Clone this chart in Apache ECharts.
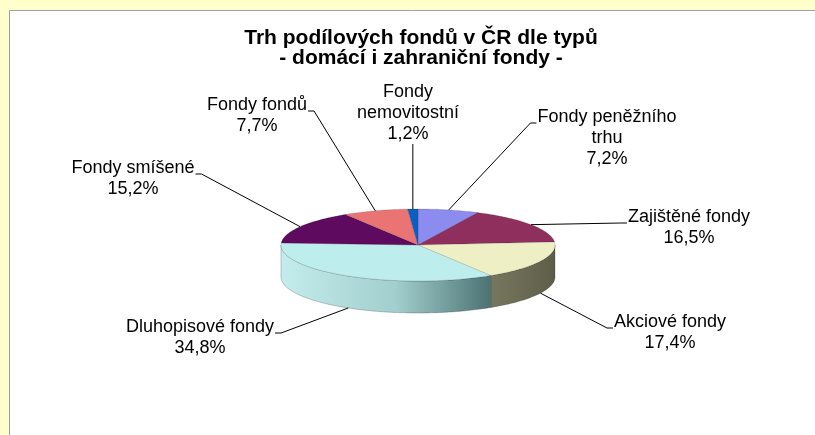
<!DOCTYPE html>
<html>
<head>
<meta charset="utf-8">
<title>Trh podílových fondů v ČR dle typů</title>
<script src="https://cdn.jsdelivr.net/npm/echarts@6/dist/echarts.min.js"></script>
<style>
  html, body { margin: 0; padding: 0; background: #ffffcc; }
  #chart { width: 815px; height: 435px; }
</style>
</head>
<body>
<div id="chart"></div>
<script>
// data – podíly dle typu fondu (v %)
const categories = ['Fondy peněžního trhu', 'Zajištěné fondy', 'Akciové fondy', 'Dluhopisové fondy', 'Fondy smíšené', 'Fondy fondů', 'Fondy nemovitostní'];
const labelNames = ['Fondy peněžního\ntrhu', 'Zajištěné fondy', 'Akciové fondy', 'Dluhopisové fondy', 'Fondy smíšené', 'Fondy fondů', 'Fondy\nnemovitostní'];
const shares = [7.2, 16.5, 17.4, 34.8, 15.2, 7.7, 1.2];

// barvy (vrch a bok výseče)
const topColors = ['#8c8cf0', '#8e2f5e', '#efefc6', '#bdeded', '#5e0a5e', '#ea7474', '#0a5fc0'];
const sideColors = [
  ['#6f6fc0', '#6060b0', '#4a4a90'],
  ['#70244a', '#5e1d3e', '#4a1530'],
  ['#77775f', '#6a6a54', '#5c5c48'],
  ['#c4ecec', '#a2cece', '#4c7272'],
  ['#4a084a', '#3e063e', '#300530'],
  ['#b85a5a', '#a04d4d', '#8a4040'],
  ['#084c9a', '#064084', '#053570']
];
// kde stojí popisky (střed prvního řádku)
const labelAt = [[607, 117], [689, 217], [670, 322], [200, 327], [133, 168], [257, 105], [408, 92]];

// geometrie 3D koláče
const cx = 418, cy = 245, rx = 137, ry = 36, depth = 32;
const lineH = 21;
const labelFont = '18px "Liberation Sans", Arial, sans-serif';

const measureCtx = document.createElement('canvas').getContext('2d');
measureCtx.font = labelFont;

const total = shares.reduce((s, v) => s + v, 0);
let acc = 0;
const seriesData = shares.map((v, i) => {
  const item = { name: categories[i], value: [v, acc] };
  acc += v;
  return item;
});

function pt(a, dy) {
  return [cx + rx * Math.sin(a), cy - ry * Math.cos(a) + (dy || 0)];
}
function arc(a0, a1, dy) {
  const pts = [];
  const n = Math.max(2, Math.ceil((a1 - a0) / (Math.PI / 180)));
  for (let k = 0; k <= n; k++) pts.push(pt(a0 + (a1 - a0) * k / n, dy));
  return pts;
}

function renderSlice(params, api) {
  const i = params.dataIndex;
  const v = api.value(0);
  const before = api.value(1);
  const a0 = before / total * Math.PI * 2;
  const a1 = (before + v) / total * Math.PI * 2;
  const children = [];

  // bok – jen přední polovina
  const s = Math.max(a0, Math.PI / 2);
  const e = Math.min(a1, Math.PI * 1.5);
  if (e > s) {
    const pts = arc(s, e, 0).concat(arc(s, e, depth).reverse());
    children.push({
      type: 'polygon',
      shape: { points: pts },
      style: {
        fill: {
          type: 'linear', x: 0, y: 0, x2: 1, y2: 0,
          colorStops: [
            { offset: 0, color: sideColors[i][0] },
            { offset: 0.55, color: sideColors[i][1] },
            { offset: 1, color: sideColors[i][2] }
          ]
        },
        stroke: 'rgba(0,0,0,0.35)',
        lineWidth: 0.6
      }
    });
  }

  // vrch výseče
  children.push({
    type: 'polygon',
    shape: { points: [[cx, cy]].concat(arc(a0, a1, 0)) },
    style: { fill: topColors[i], stroke: 'rgba(0,0,0,0.25)', lineWidth: 0.5 }
  });

  // popisek + vodicí čára
  const mid = (a0 + a1) / 2;
  const anchor = pt(mid, Math.cos(mid) < 0 ? depth : 0);
  const lines = (labelNames[i] + '\n' + v.toFixed(1).replace('.', ',') + '%').split('\n');
  const lx = labelAt[i][0], ly = labelAt[i][1];
  const w1 = measureCtx.measureText(lines[0]).width;
  let linePts;
  if (Math.abs(lx - anchor[0]) < 15) {
    linePts = [[anchor[0], ly + (lines.length - 1) * lineH + 10], anchor];
  } else if (lx > anchor[0]) {
    const end = [lx - w1 / 2 - 1, ly + 6];
    linePts = [anchor, [end[0] - 6, end[1]], end];
  } else {
    const end = [lx + w1 / 2 + 1, ly + 6];
    linePts = [anchor, [end[0] + 6, end[1]], end];
  }
  children.push({
    type: 'polyline',
    shape: { points: linePts },
    style: { stroke: '#000', lineWidth: 1, fill: null }
  });
  children.push({
    type: 'text',
    style: {
      text: lines.join('\n'),
      x: lx,
      y: ly - lineH / 2,
      fill: '#000',
      font: labelFont,
      align: 'center',
      verticalAlign: 'top',
      lineHeight: lineH
    }
  });

  return { type: 'group', children: children };
}

const chart = echarts.init(document.getElementById('chart'));
chart.setOption({
  backgroundColor: '#ffffcc',
  animation: false,
  title: {
    text: 'Trh podílových fondů v ČR dle typů\n- domácí i zahraniční fondy -',
    left: 421,
    textAlign: 'center',
    top: 28,
    padding: 0,
    textStyle: {
      fontSize: 21,
      fontWeight: 'bold',
      fontFamily: '"Liberation Sans", Arial, sans-serif',
      lineHeight: 20,
      color: '#000'
    }
  },
  graphic: [{
    type: 'rect',
    z: -10,
    shape: { x: 9.5, y: 10.5, width: 840, height: 460 },
    style: { fill: '#ffffff', stroke: '#a0a0a0', lineWidth: 1 }
  }],
  series: [{
    type: 'custom',
    coordinateSystem: 'none',
    renderItem: renderSlice,
    data: seriesData
  }]
});
</script>
</body>
</html>
